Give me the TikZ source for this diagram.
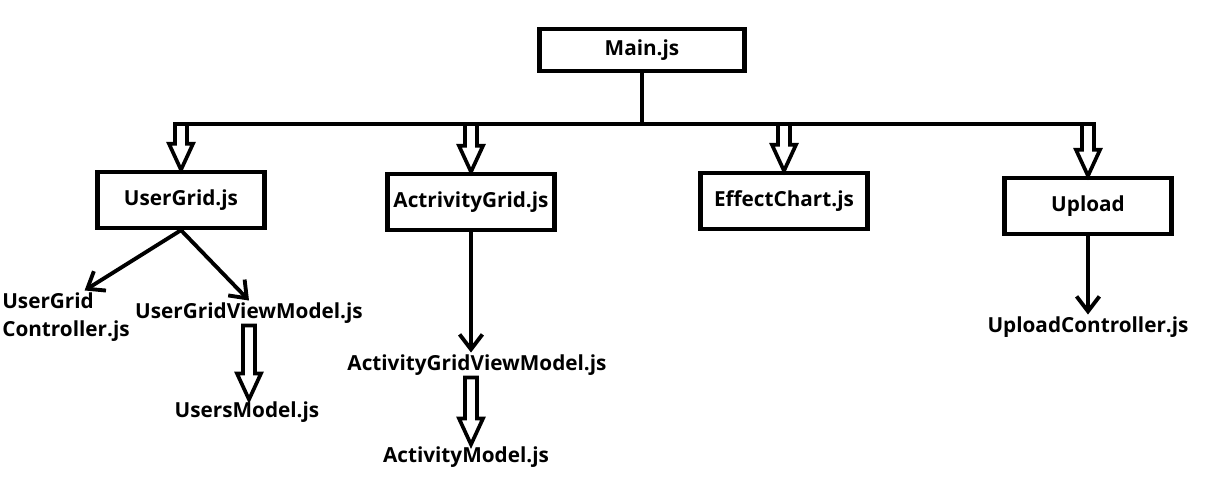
\documentclass[tikz,border=0pt]{standalone}
\usepackage{fontspec}
\setmainfont{Open Sans}
\usetikzlibrary{arrows.meta,calc}

\tikzset{
  box/.style={draw, line width=2.5pt, minimum width=3.34cm, minimum height=1.12cm, font=\bfseries\fontsize{11.8}{16}\selectfont},
  lbl/.style={inner sep=1pt, font=\bfseries\fontsize{11.8}{16}\selectfont},
  link/.style={line width=2.2pt, -{Straight Barb[length=8.5pt,width=13pt]}},
  bus/.style={line width=2.2pt},
  hollow/.style={line width=2.1pt, line join=miter},
}

\newcommand{\fatarrow}[2]{%
  \coordinate (fa-s) at (#1);
  \coordinate (fa-t) at (fa-s |- #2);
  \draw[hollow] ($(fa-s)+(-6,0)$) -- ($(fa-t)+(-6,-26)$) -- ($(fa-t)+(-12,-26)$) -- (fa-t)
    -- ($(fa-t)+(12,-26)$) -- ($(fa-t)+(6,-26)$) -- ($(fa-s)+(6,0)$) -- cycle;}

\begin{document}
\begin{tikzpicture}[x=0.02cm,y=-0.02cm]
\useasboundingbox (0,0) rectangle (1228,502);
% boxes
\node[box, minimum width=4.1cm, minimum height=0.84cm] (main) at (642,50) {Main.js};
\node[box] (ug) at (181,200) {UserGrid.js};
\node[box] (ag) at (471,202) {ActrivityGrid.js};
\node[box] (ec) at (784,201) {EffectChart.js};
\node[box] (up) at (1088,206) {Upload};
% plain labels
\node[lbl, align=left] (ugc) at (66,317) {UserGrid\\Controller.js};
\node[lbl] (ugvm) at (249,313) {UserGridViewModel.js};
\node[lbl] (um) at (247,412) {UsersModel.js};
\node[lbl] (agvm) at (477,365) {ActivityGridViewModel.js};
\node[lbl] (am) at (466,457) {ActivityModel.js};
\node[lbl] (upc) at (1088,327) {UploadController.js};
% bus from Main.js
\coordinate (fork) at (642,124);
\coordinate (busL) at (ug.north |- fork);
\coordinate (busR) at (up.north |- fork);
\draw[bus] (main.south) -- (fork);
\draw[bus] (busL) -- (busR);
\fatarrow{busL}{ug.north}
\fatarrow{ag.north |- fork}{ag.north}
\fatarrow{ec.north |- fork}{ec.north}
\fatarrow{busR}{up.north}
% children
\draw[link] (ug.south) -- (ugc.55);
\draw[link] (ug.south) -- (ugvm.north);
\fatarrow{ugvm.south}{um.north}
\draw[link] (ag.south) -- (ag.south |- agvm.north);
\fatarrow{ag.south |- agvm.south}{am.north}
\draw[link] (up.south) -- (up.south |- upc.north);
\end{tikzpicture}
\end{document}
